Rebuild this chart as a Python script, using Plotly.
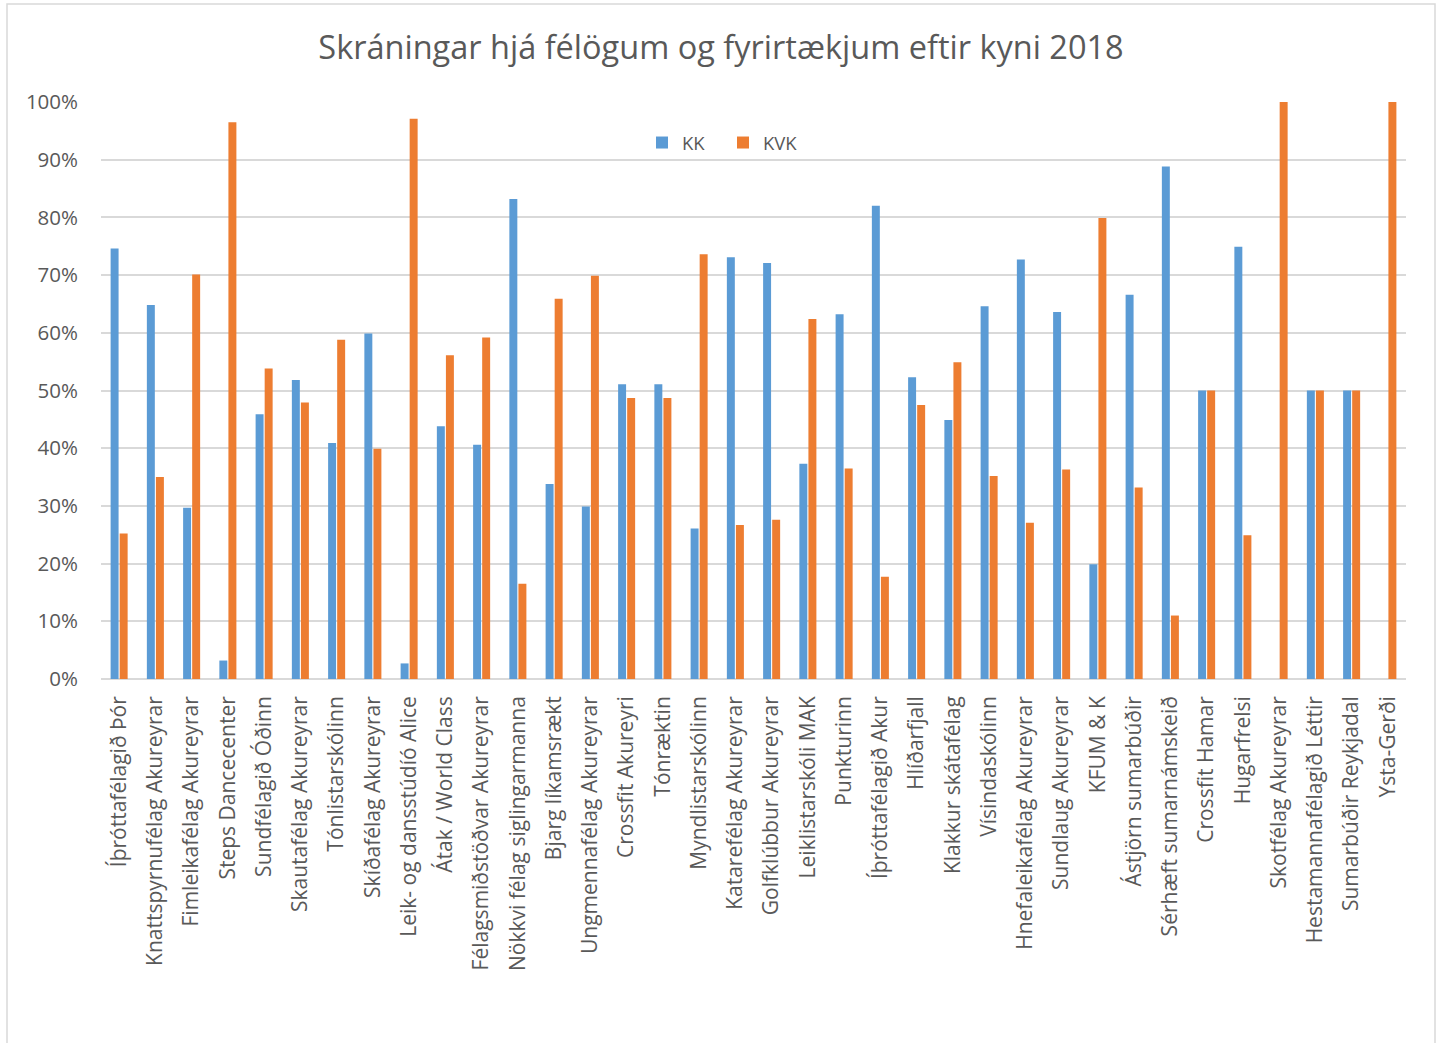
import plotly.graph_objects as go

categories = [
    "Íþróttafélagið Þór", "Knattspyrnufélag Akureyrar", "Fimleikafélag Akureyrar",
    "Steps Dancecenter", "Sundfélagið Óðinn", "Skautafélag Akureyrar",
    "Tónlistarskólinn", "Skíðafélag Akureyrar", "Leik- og dansstúdíó Alice",
    "Átak / World Class", "Félagsmiðstöðvar Akureyrar", "Nökkvi félag siglingarmanna",
    "Bjarg líkamsrækt", "Ungmennafélag Akureyrar", "Crossfit Akureyri",
    "Tónræktin", "Myndlistarskólinn", "Katarefélag Akureyrar",
    "Golfklúbbur Akureyrar", "Leiklistarskóli MAK", "Punkturinn",
    "Íþróttafélagið Akur", "Hlíðarfjall", "Klakkur skátafélag",
    "Vísindaskólinn", "Hnefaleikafélag Akureyrar", "Sundlaug Akureyrar",
    "KFUM & K", "Ástjörn sumarbúðir", "Sérhæft sumarnámskeið",
    "Crossfit Hamar", "Hugarfrelsi", "Skotfélag Akureyrar",
    "Hestamannafélagið Léttir", "Sumarbúðir Reykjadal", "Ysta-Gerði",
]

kk = [
    0.746, 0.648, 0.297, 0.032, 0.459, 0.518, 0.409, 0.599, 0.027, 0.438,
    0.406, 0.832, 0.338, 0.299, 0.511, 0.511, 0.261, 0.731, 0.721, 0.373,
    0.632, 0.820, 0.523, 0.449, 0.646, 0.727, 0.636, 0.199, 0.666, 0.888,
    0.500, 0.749, 0.0, 0.500, 0.500, 0.0,
]

kvk = [
    0.252, 0.350, 0.701, 0.965, 0.538, 0.479, 0.588, 0.399, 0.971, 0.561,
    0.592, 0.165, 0.659, 0.699, 0.487, 0.487, 0.736, 0.267, 0.276, 0.624,
    0.365, 0.177, 0.475, 0.549, 0.352, 0.271, 0.363, 0.799, 0.332, 0.110,
    0.500, 0.249, 1.0, 0.500, 0.500, 1.0,
]

y_ticks = [0, 0.1, 0.2, 0.3, 0.4, 0.5, 0.6, 0.7, 0.8, 0.9, 1.0]

FONT = "Open Sans"
TXT = "#595959"

L, R, T, B = 101, 36, 102, 364
PW = 1442 - L - R
PH = 1043 - T - B

fig = go.Figure()
fig.add_trace(go.Bar(name="KK", x=categories, y=kk, marker_color="#5B9BD5",
                     marker_line_width=0))
fig.add_trace(go.Bar(name="KVK", x=categories, y=kvk, marker_color="#ED7D31",
                     marker_line_width=0))

fig.update_layout(
    width=1442, height=1043,
    margin=dict(l=L, r=R, t=T, b=B, autoexpand=False),
    paper_bgcolor="white", plot_bgcolor="white",
    barmode="group", bargap=0.5, bargroupgap=0.12,
    font=dict(family=FONT, color=TXT),
    title=dict(text="Skráningar hjá félögum og fyrirtækjum eftir kyni 2018",
               x=0.5, xanchor="center", xref="container", y=1 - 48 / 1043, yanchor="middle",
               font=dict(family=FONT, size=32.5, color=TXT)),
    legend=dict(orientation="h", x=(642 - L) / PW, xanchor="left",
                y=(T + PH - 143) / PH, yanchor="middle", font=dict(size=18.5, color=TXT),
                itemwidth=30, bgcolor="rgba(0,0,0,0)", traceorder="normal",
                entrywidth=36),
    showlegend=True,
)

fig.update_yaxes(
    range=[0, 1.0], tickvals=y_ticks, tickformat=".0%",
    showgrid=True, gridcolor="#d9d9d9", gridwidth=1.5,
    zeroline=True, zerolinecolor="#d9d9d9", zerolinewidth=1.5,
    showline=False, ticks="", ticklabelstandoff=22,
    tickfont=dict(size=20.5, color=TXT), fixedrange=True,
)
fig.update_xaxes(
    tickangle=-90, showline=False, ticks="", ticklabelstandoff=12,
    tickfont=dict(size=21, color=TXT), fixedrange=True,
)

fig.add_shape(type="rect", xref="paper", yref="paper",
              x0=(7 - L) / PW, x1=(1435 - L) / PW,
              y0=(T + PH - 1046) / PH, y1=(T + PH - 4) / PH,
              line=dict(color="#d9d9d9", width=1.5), fillcolor="rgba(0,0,0,0)",
              layer="below")

fig.write_html("out.html", config={"displayModeBar": False},
               post_script="document.body.style.margin='0';document.body.style.overflow='hidden';")
